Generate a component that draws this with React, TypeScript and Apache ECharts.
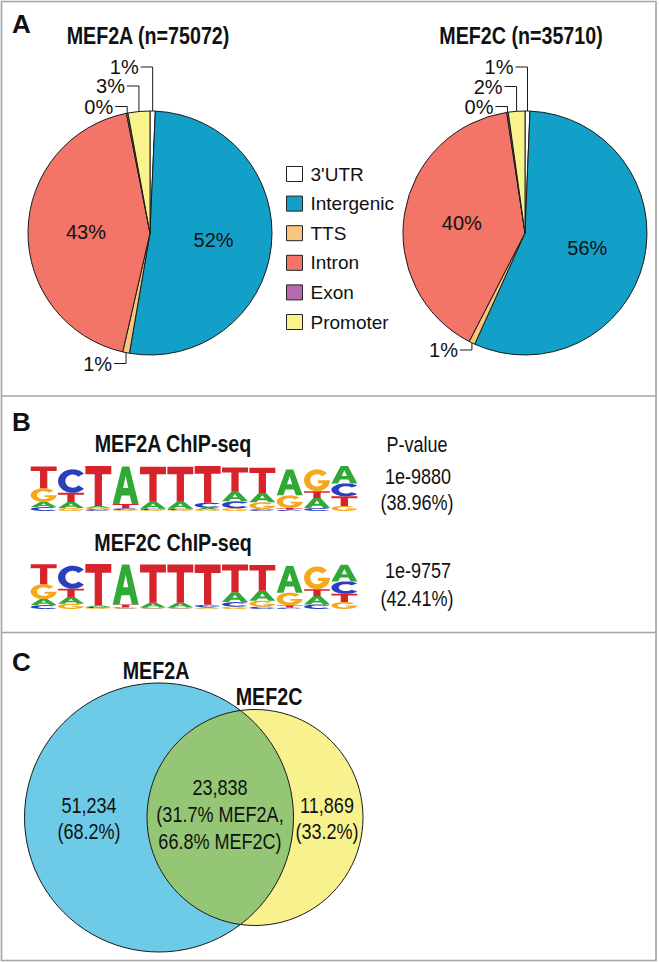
import React, { useEffect, useRef } from 'react';
import * as echarts from 'echarts';

// ---------------- data ----------------
const CATEGORIES = ["3'UTR", 'Intergenic', 'TTS', 'Intron', 'Exon', 'Promoter'];
const CATEGORY_COLORS = ['#ffffff', '#12a0c8', '#fbc57d', '#f27567', '#b868b0', '#f8f38b'];
const PIE_FACTORS = ['MEF2A', 'MEF2C'];
const PIE_N = [75072, 35710];
const MEF2A_SHARE = [0.7, 52.1, 0.9, 43.4, 0.2, 2.9];
const MEF2C_SHARE = [0.65, 56.2, 0.8, 40.1, 0.2, 2.2];

const MOTIF_TITLES = ['MEF2A ChIP-seq', 'MEF2C ChIP-seq'];
const MOTIF_PVALUES = ['1e-9880', '1e-9757'];
const MOTIF_TARGET_PCT = ['38.96', '42.41'];
const LOGO_POSITIONS = ['1', '2', '3', '4', '5', '6', '7', '8', '9', '10', '11', '12'];
// stacks listed bottom -> top, heights in bits
const MEF2A_LOGO: [string, number][][] = [
  [['C', 0.17], ['A', 0.22], ['G', 0.6], ['T', 0.95]],
  [['G', 0.13], ['A', 0.26], ['T', 0.4], ['C', 1.02]],
  [['C', 0.08], ['G', 0.06], ['A', 0.08], ['T', 1.74]],
  [['G', 0.04], ['C', 0.08], ['T', 0.18], ['A', 1.64]],
  [['G', 0.04], ['C', 0.06], ['A', 0.3], ['T', 1.52]],
  [['G', 0.04], ['C', 0.06], ['A', 0.3], ['T', 1.52]],
  [['G', 0.06], ['A', 0.08], ['C', 0.22], ['T', 1.6]],
  [['G', 0.12], ['C', 0.3], ['A', 0.42], ['T', 1.05]],
  [['C', 0.08], ['G', 0.3], ['A', 0.4], ['T', 1.1]],
  [['C', 0.05], ['T', 0.08], ['G', 0.55], ['A', 1.12]],
  [['C', 0.13], ['A', 0.43], ['T', 0.3], ['G', 0.95]],
  [['G', 0.22], ['T', 0.42], ['C', 0.56], ['A', 0.76]],
];
const MEF2C_LOGO: [string, number][][] = [
  [['C', 0.17], ['A', 0.26], ['G', 0.65], ['T', 0.87]],
  [['G', 0.23], ['A', 0.29], ['T', 0.36], ['C', 1.0]],
  [['G', 0.04], ['C', 0.05], ['A', 0.06], ['T', 1.81]],
  [['G', 0.03], ['C', 0.04], ['T', 0.13], ['A', 1.74]],
  [['G', 0.03], ['C', 0.04], ['A', 0.2], ['T', 1.67]],
  [['G', 0.03], ['C', 0.04], ['A', 0.2], ['T', 1.67]],
  [['G', 0.03], ['A', 0.05], ['C', 0.1], ['T', 1.75]],
  [['G', 0.1], ['C', 0.2], ['A', 0.43], ['T', 1.2]],
  [['C', 0.1], ['G', 0.26], ['A', 0.43], ['T', 1.12]],
  [['C', 0.06], ['T', 0.1], ['G', 0.55], ['A', 1.16]],
  [['C', 0.2], ['A', 0.36], ['T', 0.3], ['G', 0.99]],
  [['G', 0.3], ['T', 0.36], ['C', 0.54], ['A', 0.72]],
];
const LETTERS = ['A', 'C', 'G', 'T'];
const LETTER_COLORS = ['#30a936', '#2a3fc0', '#f6a81d', '#d7232b'];

const VENN_SETS = ['MEF2A', 'MEF2C'];
const VENN_ONLY_COUNTS = [51234, 11869];
const VENN_ONLY_PCT = [68.2, 33.2];
const VENN_SHARED_COUNT = 23838;
const VENN_SHARED_PCT = [31.7, 66.8];

// ---------------- layout / style ----------------
const SANS = "'Liberation Sans', Arial, sans-serif";
const INK = '#111';
const NARROW_SCALE = 0.82;
const PIE_CENTERS = [[150, 233], [525, 233]];
const PIE_R = 122;
const OUT_LABEL_Y: Record<number, number>[] = [
  { 0: 67, 5: 86, 4: 106.5, 2: 363.5 },
  { 0: 67, 5: 86.5, 4: 106.5, 2: 350 },
];
const VENN_A = [159, 817.5, 134.5];
const VENN_C = [255, 817.5, 108];

const deg = Math.PI / 180;
const arcPts = (cx: number, cy: number, rx: number, ry: number, a0: number, a1: number, n: number) => {
  const pts: number[][] = [];
  for (let i = 0; i <= n; i++) {
    const a = (a0 + ((a1 - a0) * i) / n) * deg;
    pts.push([cx + rx * Math.cos(a), cy + ry * Math.sin(a)]);
  }
  return pts;
};
const toPath = (pts: number[][]) =>
  'M' + pts.map((p) => p[0].toFixed(2) + ' ' + p[1].toFixed(2)).join('L') + 'Z';

const GLYPHS: Record<string, string> = {
  T: 'M0 0L100 0L100 21L64 21L64 100L36 100L36 21L0 21Z',
  A: 'M36 0L64 0L100 100L74 100L66 77L34 77L26 100L0 100Z M40 57L60 57L50 25Z',
  C: toPath([...arcPts(50, 50, 50, 50, -40, -320, 48), ...arcPts(50, 50, 25, 28, -320, -40, 48)]),
  G: toPath([
    ...arcPts(50, 50, 50, 50, -40, -360, 52),
    [54, 50],
    [54, 64],
    ...arcPts(50, 50, 26, 28, -330, -40, 48),
  ]),
};

const logoData = (logo: [string, number][][]) => {
  const out: number[][] = [];
  logo.forEach((stack, col) => {
    let y = 0;
    stack.forEach(([l, h]) => {
      out.push([col, y, y + h, LETTERS.indexOf(l)]);
      y += h;
    });
  });
  return out;
};

const lensPoints = (c1: number[], c2: number[]) => {
  const [x1, y1, r1] = c1;
  const [x2, y2, r2] = c2;
  const d = x2 - x1;
  const a = (r1 * r1 - r2 * r2 + d * d) / (2 * d);
  const h = Math.sqrt(r1 * r1 - a * a);
  const px = x1 + a;
  const t2a = Math.atan2(-h, px - x2) / deg;
  const t2b = Math.atan2(h, px - x2) / deg;
  const t1a = Math.atan2(-h, a) / deg;
  const t1b = Math.atan2(h, a) / deg;
  return [...arcPts(x2, y2, r2, r2, t2a, t2b - 360, 80), ...arcPts(x1, y1, r1, r1, t1b, t1a, 80)];
};

const txt = (x: number, y: number, text: string, font: string, align = 'center', scaleX = NARROW_SCALE) => ({
  type: 'text',
  x,
  y,
  scaleX,
  silent: true,
  style: { text, font, fill: INK, align, verticalAlign: 'middle', textAlign: align, textVerticalAlign: 'middle' },
});

const pieSeries = (idx: number) => {
  const vals = idx === 0 ? MEF2A_SHARE : MEF2C_SHARE;
  const [cx, cy] = PIE_CENTERS[idx];
  const outY = OUT_LABEL_Y[idx];
  const total = vals.reduce((s, v) => s + v, 0);
  return {
    type: 'pie',
    name: PIE_FACTORS[idx],
    center: [cx, cy],
    radius: PIE_R,
    startAngle: 90,
    clockwise: true,
    avoidLabelOverlap: false,
    silent: true,
    itemStyle: { borderColor: '#1a1a1a', borderWidth: 1 },
    label: {
      show: true,
      formatter: (p: any) => Math.round(p.percent) + '%',
      fontFamily: SANS,
      fontSize: 20,
      color: INK,
    },
    labelLine: { show: true, lineStyle: { color: '#1a1a1a', width: 1 } },
    labelLayout: (params: any) => {
      const i = params.dataIndex;
      const ly = outY[i];
      if (ly == null) return {};
      let before = 0;
      for (let k = 0; k < i; k++) before += vals[k];
      const mid = ((before + vals[i] / 2) / total) * 2 * Math.PI;
      const ex = cx + PIE_R * Math.sin(mid);
      const ey = cy - PIE_R * Math.cos(mid);
      return {
        x: ex - 14,
        y: ly,
        align: 'right',
        verticalAlign: 'middle',
        labelLinePoints: [[ex, ey], [ex, ly], [ex - 12, ly]],
      };
    },
    data: CATEGORIES.map((name, i) => ({
      name,
      value: vals[i],
      itemStyle: { color: CATEGORY_COLORS[i] },
      label: { position: outY[i] != null ? 'outside' : 'inside' },
    })),
  };
};

const logoSeries = (idx: number, logo: [string, number][][]) => ({
  type: 'custom',
  xAxisIndex: idx,
  yAxisIndex: idx,
  silent: true,
  encode: { x: 0, y: [1, 2] },
  data: logoData(logo),
  renderItem: (params: any, api: any) => {
    const col = api.value(0);
    const y0 = api.value(1);
    const y1 = api.value(2);
    const li = api.value(3);
    const top = api.coord([col, y1]);
    const bot = api.coord([col, y0]);
    const w = api.size([1, 0])[0];
    return {
      type: 'path',
      shape: {
        pathData: GLYPHS[LETTERS[li]],
        x: top[0] - w / 2 + 0.7,
        y: top[1],
        width: w - 1.4,
        height: Math.max(bot[1] - top[1], 0.4),
        layout: 'cover',
      },
      style: { fill: LETTER_COLORS[li] },
    };
  },
});

export default function App() {
  const ref = useRef<HTMLDivElement>(null);
  useEffect(() => {
    if (!ref.current) return;
    const chart = echarts.init(ref.current, undefined, { renderer: 'svg' });
    const border = '#a3a3a3';
    const boldNarrow = `bold 24px ${SANS}`;
    const reg = `22px ${SANS}`;
    const panelFont = `bold 26px ${SANS}`;
    const grids = [
      { left: 30, top: 465, width: 328, height: 46 },
      { left: 30, top: 563, width: 328, height: 46 },
    ];
    const option: any = {
      animation: false,
      backgroundColor: '#ffffff',
      legend: {
        data: CATEGORIES,
        orient: 'vertical',
        left: 286,
        top: 163,
        padding: 0,
        itemWidth: 16,
        itemHeight: 15,
        itemGap: 7.6,
        icon: 'rect',
        selectedMode: false,
        itemStyle: { borderColor: '#222', borderWidth: 1 },
        textStyle: { fontFamily: SANS, fontSize: 19, lineHeight: 22, color: INK, padding: [0, 0, 0, 3] },
      },
      grid: grids,
      xAxis: grids.map((_, i) => ({ type: 'category', gridIndex: i, data: LOGO_POSITIONS, show: false })),
      yAxis: grids.map((_, i) => ({ type: 'value', gridIndex: i, min: 0, max: 2, show: false })),
      series: [pieSeries(0), pieSeries(1), logoSeries(0, MEF2A_LOGO), logoSeries(1, MEF2C_LOGO)],
      graphic: {
        elements: [
          { type: 'rect', silent: true, shape: { x: 1.5, y: 1.5, width: 654.5, height: 959 }, style: { fill: 'none', stroke: border, lineWidth: 1.6 } },
          { type: 'line', silent: true, shape: { x1: 1.5, y1: 396, x2: 656, y2: 396 }, style: { stroke: border, lineWidth: 1.6 } },
          { type: 'line', silent: true, shape: { x1: 1.5, y1: 632.5, x2: 656, y2: 632.5 }, style: { stroke: border, lineWidth: 1.6 } },
          // panel A
          txt(12, 24, 'A', panelFont, 'left', 1),
          txt(148, 35.5, `${PIE_FACTORS[0]} (n=${PIE_N[0]})`, boldNarrow),
          txt(521, 35.5, `${PIE_FACTORS[1]} (n=${PIE_N[1]})`, boldNarrow),
          // panel B
          txt(12, 422, 'B', panelFont, 'left', 1),
          txt(173, 444, MOTIF_TITLES[0], boldNarrow),
          txt(173, 542.5, MOTIF_TITLES[1], boldNarrow),
          txt(417, 444, 'P-value', reg),
          txt(418, 476, MOTIF_PVALUES[0], reg),
          txt(417, 502.5, `(${MOTIF_TARGET_PCT[0]}%)`, reg),
          txt(418, 570.5, MOTIF_PVALUES[1], reg),
          txt(417, 598, `(${MOTIF_TARGET_PCT[1]}%)`, reg),
          // panel C
          txt(12, 661.5, 'C', panelFont, 'left', 1),
          { type: 'circle', silent: true, shape: { cx: VENN_A[0], cy: VENN_A[1], r: VENN_A[2] }, style: { fill: '#6ecbe8', stroke: 'none' } },
          { type: 'circle', silent: true, shape: { cx: VENN_C[0], cy: VENN_C[1], r: VENN_C[2] }, style: { fill: '#f8f28e', stroke: 'none' } },
          { type: 'polygon', silent: true, shape: { points: lensPoints(VENN_A, VENN_C) }, style: { fill: '#94c675', stroke: 'none' } },
          { type: 'circle', silent: true, shape: { cx: VENN_A[0], cy: VENN_A[1], r: VENN_A[2] }, style: { fill: 'none', stroke: '#1a1a1a', lineWidth: 1 } },
          { type: 'circle', silent: true, shape: { cx: VENN_C[0], cy: VENN_C[1], r: VENN_C[2] }, style: { fill: 'none', stroke: '#1a1a1a', lineWidth: 1 } },
          txt(156, 671, VENN_SETS[0], boldNarrow),
          txt(269, 696.5, VENN_SETS[1], boldNarrow),
          txt(89, 805, VENN_ONLY_COUNTS[0].toLocaleString('en-US'), reg),
          txt(89, 831.5, `(${VENN_ONLY_PCT[0]}%)`, reg),
          txt(220, 787.5, VENN_SHARED_COUNT.toLocaleString('en-US'), reg),
          txt(220, 814.5, `(${VENN_SHARED_PCT[0]}% ${VENN_SETS[0]},`, reg),
          txt(220, 841.5, `${VENN_SHARED_PCT[1]}% ${VENN_SETS[1]})`, reg),
          txt(327, 805, VENN_ONLY_COUNTS[1].toLocaleString('en-US'), reg),
          txt(327, 831.5, `(${VENN_ONLY_PCT[1]}%)`, reg),
        ],
      },
    };
    chart.setOption(option);
    return () => chart.dispose();
  }, []);
  return (
    <div
      ref={ref}
      style={{ position: 'absolute', left: 0, top: 0, width: 659, height: 963, background: '#fff' }}
    />
  );
}
